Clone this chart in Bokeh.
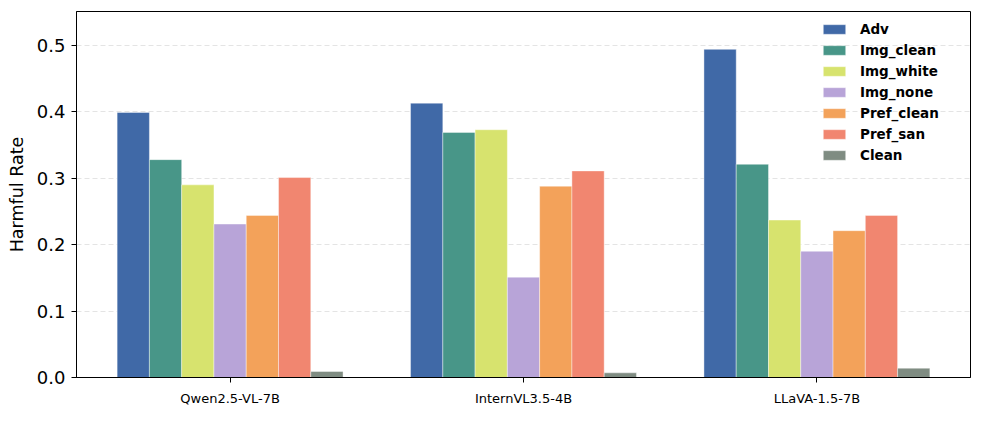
from bokeh.plotting import figure
from bokeh.models import FixedTicker, Legend, LegendItem, PrintfTickFormatter
from bokeh.embed import file_html
from bokeh.resources import INLINE

models = ["Qwen2.5-VL-7B", "InternVL3.5-4B", "LLaVA-1.5-7B"]
series = ["Adv", "Img_clean", "Img_white", "Img_none", "Pref_clean", "Pref_san", "Clean"]
adv = [0.399, 0.413, 0.494]
img_clean = [0.328, 0.369, 0.321]
img_white = [0.290, 0.373, 0.237]
img_none = [0.231, 0.151, 0.190]
pref_clean = [0.244, 0.288, 0.221]
pref_san = [0.301, 0.311, 0.244]
clean = [0.009, 0.007, 0.014]
colors = ["#4069A7", "#489688", "#D7E36E", "#B8A4D8", "#F3A25A", "#F18670", "#7F8C82"]
y_ticks = [0.0, 0.1, 0.2, 0.3, 0.4, 0.5]

values = [adv, img_clean, img_white, img_none, pref_clean, pref_san, clean]
bar_w = 0.11
FONT = "DejaVu Sans"

p = figure(width=981, height=416, output_backend="svg", toolbar_location=None,
           x_range=(-0.5235, 2.5235), y_range=(0, 0.551),
           min_border_left=76, min_border_right=11, min_border_top=11, min_border_bottom=39)

items = []
for i, (name, vals, col) in enumerate(zip(series, values, colors)):
    xs = [g + (i - 3) * bar_w for g in range(len(models))]
    r = p.vbar(x=xs, top=vals, width=bar_w, bottom=0, fill_color=col, fill_alpha=1.0,
               line_color="white", line_alpha=0.5, line_width=0.8)
    items.append(LegendItem(label=name, renderers=[r]))

legend = Legend(items=items, location=(744, 214), padding=0, margin=0,
                border_line_color=None, background_fill_alpha=0,
                glyph_width=28, glyph_height=12, label_height=15, spacing=5,
                label_standoff=12, label_text_font=FONT, label_text_font_style="bold",
                label_text_font_size="13.5px", label_text_color="black")
p.add_layout(legend)

p.xaxis.ticker = FixedTicker(ticks=list(range(len(models))))
p.xaxis.major_label_overrides = {i: m for i, m in enumerate(models)}
p.xaxis.major_label_text_font = FONT
p.xaxis.major_label_text_font_size = "13px"
p.xaxis.major_label_standoff = 8
p.xaxis.minor_tick_line_color = None
p.xaxis.major_tick_in = 0
p.xaxis.major_tick_out = 5

p.yaxis.ticker = FixedTicker(ticks=y_ticks)
p.yaxis.formatter = PrintfTickFormatter(format="%.1f")
p.yaxis.major_label_text_font = FONT
p.yaxis.major_label_text_font_size = "18px"
p.yaxis.major_label_standoff = 6
p.yaxis.minor_tick_line_color = None
p.yaxis.major_tick_in = 0
p.yaxis.major_tick_out = 5
p.yaxis.axis_label = "Harmful Rate"
p.yaxis.axis_label_text_font = FONT
p.yaxis.axis_label_text_font_size = "17.5px"
p.yaxis.axis_label_text_font_style = "normal"
p.yaxis.axis_label_standoff = 7

for ax in (p.xaxis, p.yaxis):
    ax.axis_line_color = "black"
    ax.major_tick_line_color = "black"
    ax.major_label_text_color = "black"
    ax.axis_label_text_color = "black"

p.xgrid.grid_line_color = None
p.ygrid.grid_line_color = "#d9d9d9"
p.ygrid.grid_line_dash = "5 3"
p.ygrid.grid_line_alpha = 0.7
p.outline_line_color = "black"
p.outline_line_width = 1
p.outline_line_alpha = 1

open("out.html", "w").write(file_html(p, INLINE))
